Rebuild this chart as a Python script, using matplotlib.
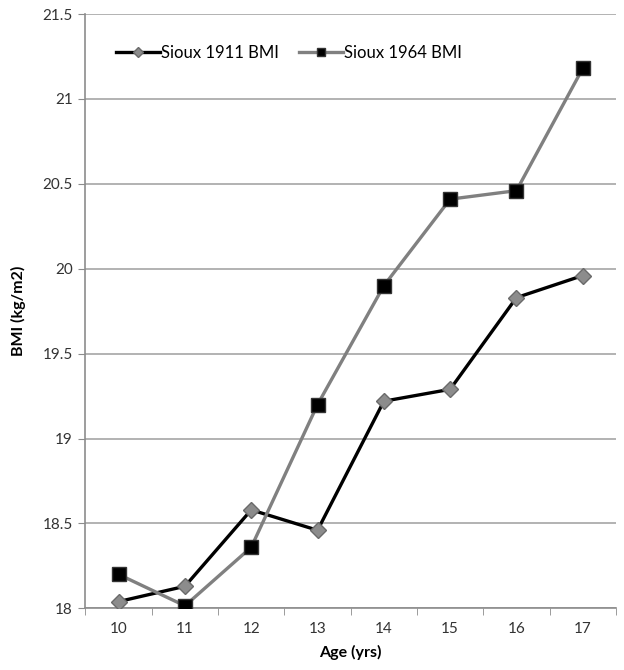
import matplotlib.pyplot as plt

plt.rcParams['font.family'] = ['Lato', 'DejaVu Sans']

ages = [10, 11, 12, 13, 14, 15, 16, 17]
bmi_1911 = [18.04, 18.13, 18.58, 18.46, 19.22, 19.29, 19.83, 19.96]
bmi_1964 = [18.20, 18.015, 18.36, 19.20, 19.90, 20.41, 20.46, 21.18]
yticks = [18, 18.5, 19, 19.5, 20, 20.5, 21, 21.5]
ytick_labels = ['18', '18.5', '19', '19.5', '20', '20.5', '21', '21.5']

fig = plt.figure(figsize=(6.24, 6.7), dpi=100)
ax = fig.add_axes([0.137, 0.092, 0.850, 0.887])

x = list(range(len(ages)))
ax.plot(x, bmi_1911, color='black', lw=2.4, marker='D', ms=8.5,
        mfc='#8c8c8c', mec='#6a6a6a', mew=1, label='Sioux 1911 BMI', zorder=3)
ax.plot(x, bmi_1964, color='#808080', lw=2.4, marker='s', ms=10,
        mfc='black', mec='#333333', mew=1, label='Sioux 1964 BMI', zorder=3)

ax.set_xlim(-0.5, len(ages) - 0.5)
ax.set_ylim(18, 21.5)
ax.set_yticks(yticks)
ax.set_yticklabels(ytick_labels)
ax.set_xticks(x)
ax.set_xticklabels([str(a) for a in ages])
ax.set_xticks([i - 0.5 for i in range(len(ages) + 1)], minor=True)
ax.tick_params(axis='x', which='major', length=0, pad=10, labelsize=11, colors='#333333')
ax.tick_params(axis='x', which='minor', length=5, color='#8c8c8c', direction='out')
ax.tick_params(axis='y', length=5, color='#8c8c8c', labelsize=11, labelcolor='#333333', pad=4)

ax.grid(axis='y', color='#a6a6a6', lw=1.2)
ax.set_axisbelow(True)
for s in ['top', 'right']:
    ax.spines[s].set_visible(False)
for s in ['left', 'bottom']:
    ax.spines[s].set_color('#8c8c8c')
    ax.spines[s].set_linewidth(1.2)

ax.set_xlabel('Age (yrs)', fontsize=11.5, fontweight='bold', labelpad=6)
ax.set_ylabel('BMI (kg/m2)', fontsize=11.5, fontweight='bold', labelpad=12)

ax.legend(loc='center left', bbox_to_anchor=(0.03, 0.934), ncol=2, frameon=False,
          fontsize=12, handlelength=2.6, handletextpad=0.1, columnspacing=1.2,
          markerscale=0.6)

fig.savefig('out.png', dpi=100)
